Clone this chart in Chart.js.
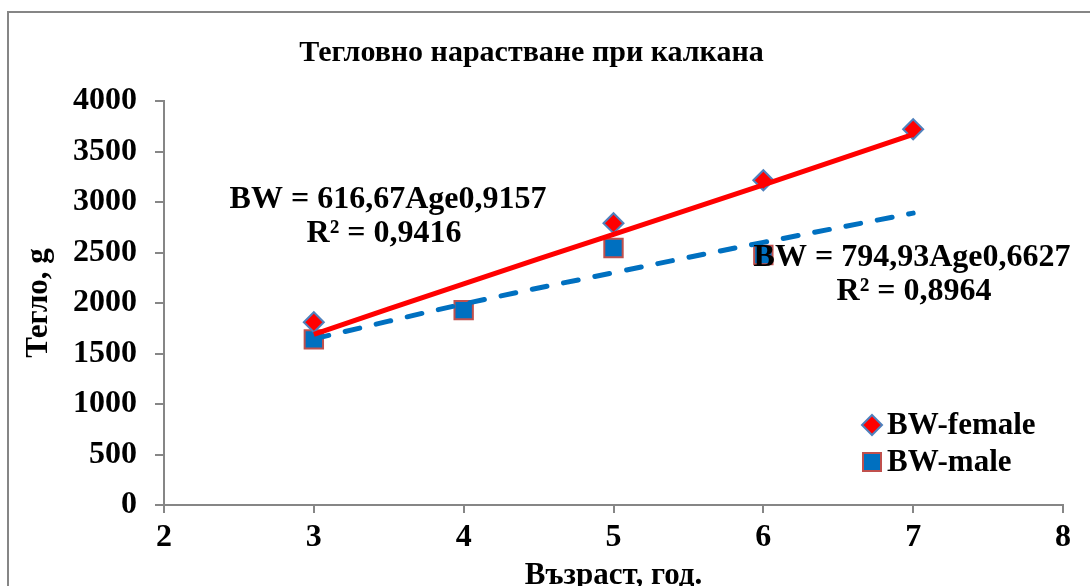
<!DOCTYPE html>
<html>
<head>
<meta charset="utf-8">
<script src="https://cdn.jsdelivr.net/npm/chart.js@4.4.1/dist/chart.umd.min.js"></script>
<style>
html, body { margin: 0; padding: 0; background: #fff; }
</style>
</head>
<body>
<canvas id="growthChart" width="1090" height="586"></canvas>
<script>
// values
var femaleAges = [3, 5, 6, 7];
var femaleWeights = [1810, 2790, 3215, 3720];
var maleAges = [3, 4, 5, 6];
var maleWeights = [1640, 1930, 2545, 2475];
var trendAges = [3, 4, 5, 6, 7];
var femaleTrend = [1690, 2190, 2680, 3170, 3670];
var maleTrend = [1645, 1990, 2300, 2600, 2890];
var femaleEquation = ['BW = 616,67Age0,9157', 'R\u00B2 = 0,9416'];
var maleEquation = ['BW = 794,93Age0,6627', 'R\u00B2 = 0,8964'];
var seriesNames = ['BW-female', 'BW-male'];

var serif = '"Liberation Serif", "Times New Roman", serif';
var axisGray = '#868686';
var femaleRed = '#FF0000';
var maleBlue = '#0070C0';

function toPoints(xs, ys) {
    var pts = [];
    for (var i = 0; i < xs.length; i++) {
        pts.push({x: xs[i], y: ys[i]});
    }
    return pts;
}

// frame, trendline labels and the legend box
var extras = {
    id: 'extras',
    beforeDraw: function(chart) {
        var ctx = chart.ctx;
        ctx.save();
        ctx.fillStyle = '#fff';
        ctx.fillRect(0, 0, chart.width, chart.height);
        ctx.strokeStyle = axisGray;
        ctx.lineWidth = 2;
        ctx.strokeRect(8, 12, chart.width + 20, chart.height + 20);
        ctx.restore();
    },
    afterDraw: function(chart) {
        var ctx = chart.ctx;
        ctx.save();
        ctx.fillStyle = '#000';
        ctx.font = 'bold 32px ' + serif;
        ctx.textAlign = 'center';
        ctx.textBaseline = 'middle';
        ctx.fillText(femaleEquation[0], 388, 200);
        ctx.fillText(femaleEquation[1], 384, 234);
        ctx.fillText(maleEquation[0], 912, 258);
        ctx.fillText(maleEquation[1], 914, 292);

        // legend
        ctx.lineWidth = 2;
        ctx.beginPath();
        ctx.moveTo(872, 415); ctx.lineTo(882, 425); ctx.lineTo(872, 435); ctx.lineTo(862, 425);
        ctx.closePath();
        ctx.fillStyle = femaleRed;
        ctx.fill();
        ctx.strokeStyle = '#4F81BD';
        ctx.stroke();
        ctx.fillStyle = maleBlue;
        ctx.fillRect(863, 453, 18, 18);
        ctx.strokeStyle = '#C0504D';
        ctx.strokeRect(863, 453, 18, 18);
        ctx.fillStyle = '#000';
        ctx.textAlign = 'left';
        ctx.font = 'bold 31px ' + serif;
        ctx.fillText(seriesNames[0], 887, 426);
        ctx.fillText(seriesNames[1], 887, 463);
        ctx.restore();
    }
};

var growthCtx = document.getElementById('growthChart').getContext('2d');
var growthChart = new Chart(growthCtx, {
    type: 'scatter',
    data: {
        datasets: [{
            label: seriesNames[0],
            data: toPoints(femaleAges, femaleWeights),
            pointStyle: 'rectRot',
            pointRadius: 10,
            pointHoverRadius: 10,
            backgroundColor: femaleRed,
            borderColor: '#4F81BD',
            borderWidth: 2,
            order: 3
        }, {
            label: seriesNames[1],
            data: toPoints(maleAges, maleWeights),
            pointStyle: 'rect',
            pointRadius: 13,
            pointHoverRadius: 13,
            backgroundColor: maleBlue,
            borderColor: '#C0504D',
            borderWidth: 2,
            order: 4
        }, {
            label: 'female trend',
            type: 'line',
            data: toPoints(trendAges, femaleTrend),
            borderColor: femaleRed,
            borderWidth: 5,
            pointRadius: 0,
            tension: 0.4,
            fill: false,
            order: 1
        }, {
            label: 'male trend',
            type: 'line',
            data: toPoints(trendAges, maleTrend),
            borderColor: maleBlue,
            borderWidth: 5,
            borderDash: [15, 17],
            borderCapStyle: 'round',
            pointRadius: 0,
            tension: 0.4,
            fill: false,
            order: 2
        }]
    },
    options: {
        responsive: false,
        animation: false,
        devicePixelRatio: 1,
        layout: { padding: { left: 0, right: 27, top: 0, bottom: 0 } },
        plugins: {
            legend: { display: false },
            tooltip: { enabled: false },
            title: {
                display: true,
                text: 'Тегловно нарастване при калкана',
                color: '#000',
                font: { family: serif, size: 30, weight: 'bold', lineHeight: 1.2 },
                padding: { top: 35, bottom: 30 }
            }
        },
        scales: {
            x: {
                type: 'linear',
                min: 2,
                max: 8,
                ticks: {
                    stepSize: 1,
                    color: '#000',
                    padding: 6,
                    font: { family: serif, size: 32, weight: 'bold' }
                },
                grid: { drawOnChartArea: false, tickLength: 8, color: axisGray, lineWidth: 2 },
                border: { color: axisGray, width: 2 },
                title: {
                    display: true,
                    text: 'Възраст, год.',
                    color: '#000',
                    font: { family: serif, size: 31, weight: 'bold', lineHeight: '20px' },
                    padding: { top: 0, bottom: 0 }
                },
                afterFit: function(scale) { scale.height = 81; }
            },
            y: {
                min: 0,
                max: 4000,
                ticks: {
                    stepSize: 500,
                    color: '#000',
                    padding: 18,
                    font: { family: serif, size: 32, weight: 'bold' },
                    callback: function(value) { return String(value); }
                },
                grid: { drawOnChartArea: false, tickLength: 9, color: axisGray, lineWidth: 2 },
                border: { color: axisGray, width: 2 },
                title: {
                    display: true,
                    text: 'Тегло, g',
                    color: '#000',
                    font: { family: serif, size: 31, weight: 'bold', lineHeight: 1.2 },
                    padding: { top: 20, bottom: 0 }
                },
                afterFit: function(scale) { scale.width = 164; }
            }
        }
    },
    plugins: [extras]
});
</script>
</body>
</html>
